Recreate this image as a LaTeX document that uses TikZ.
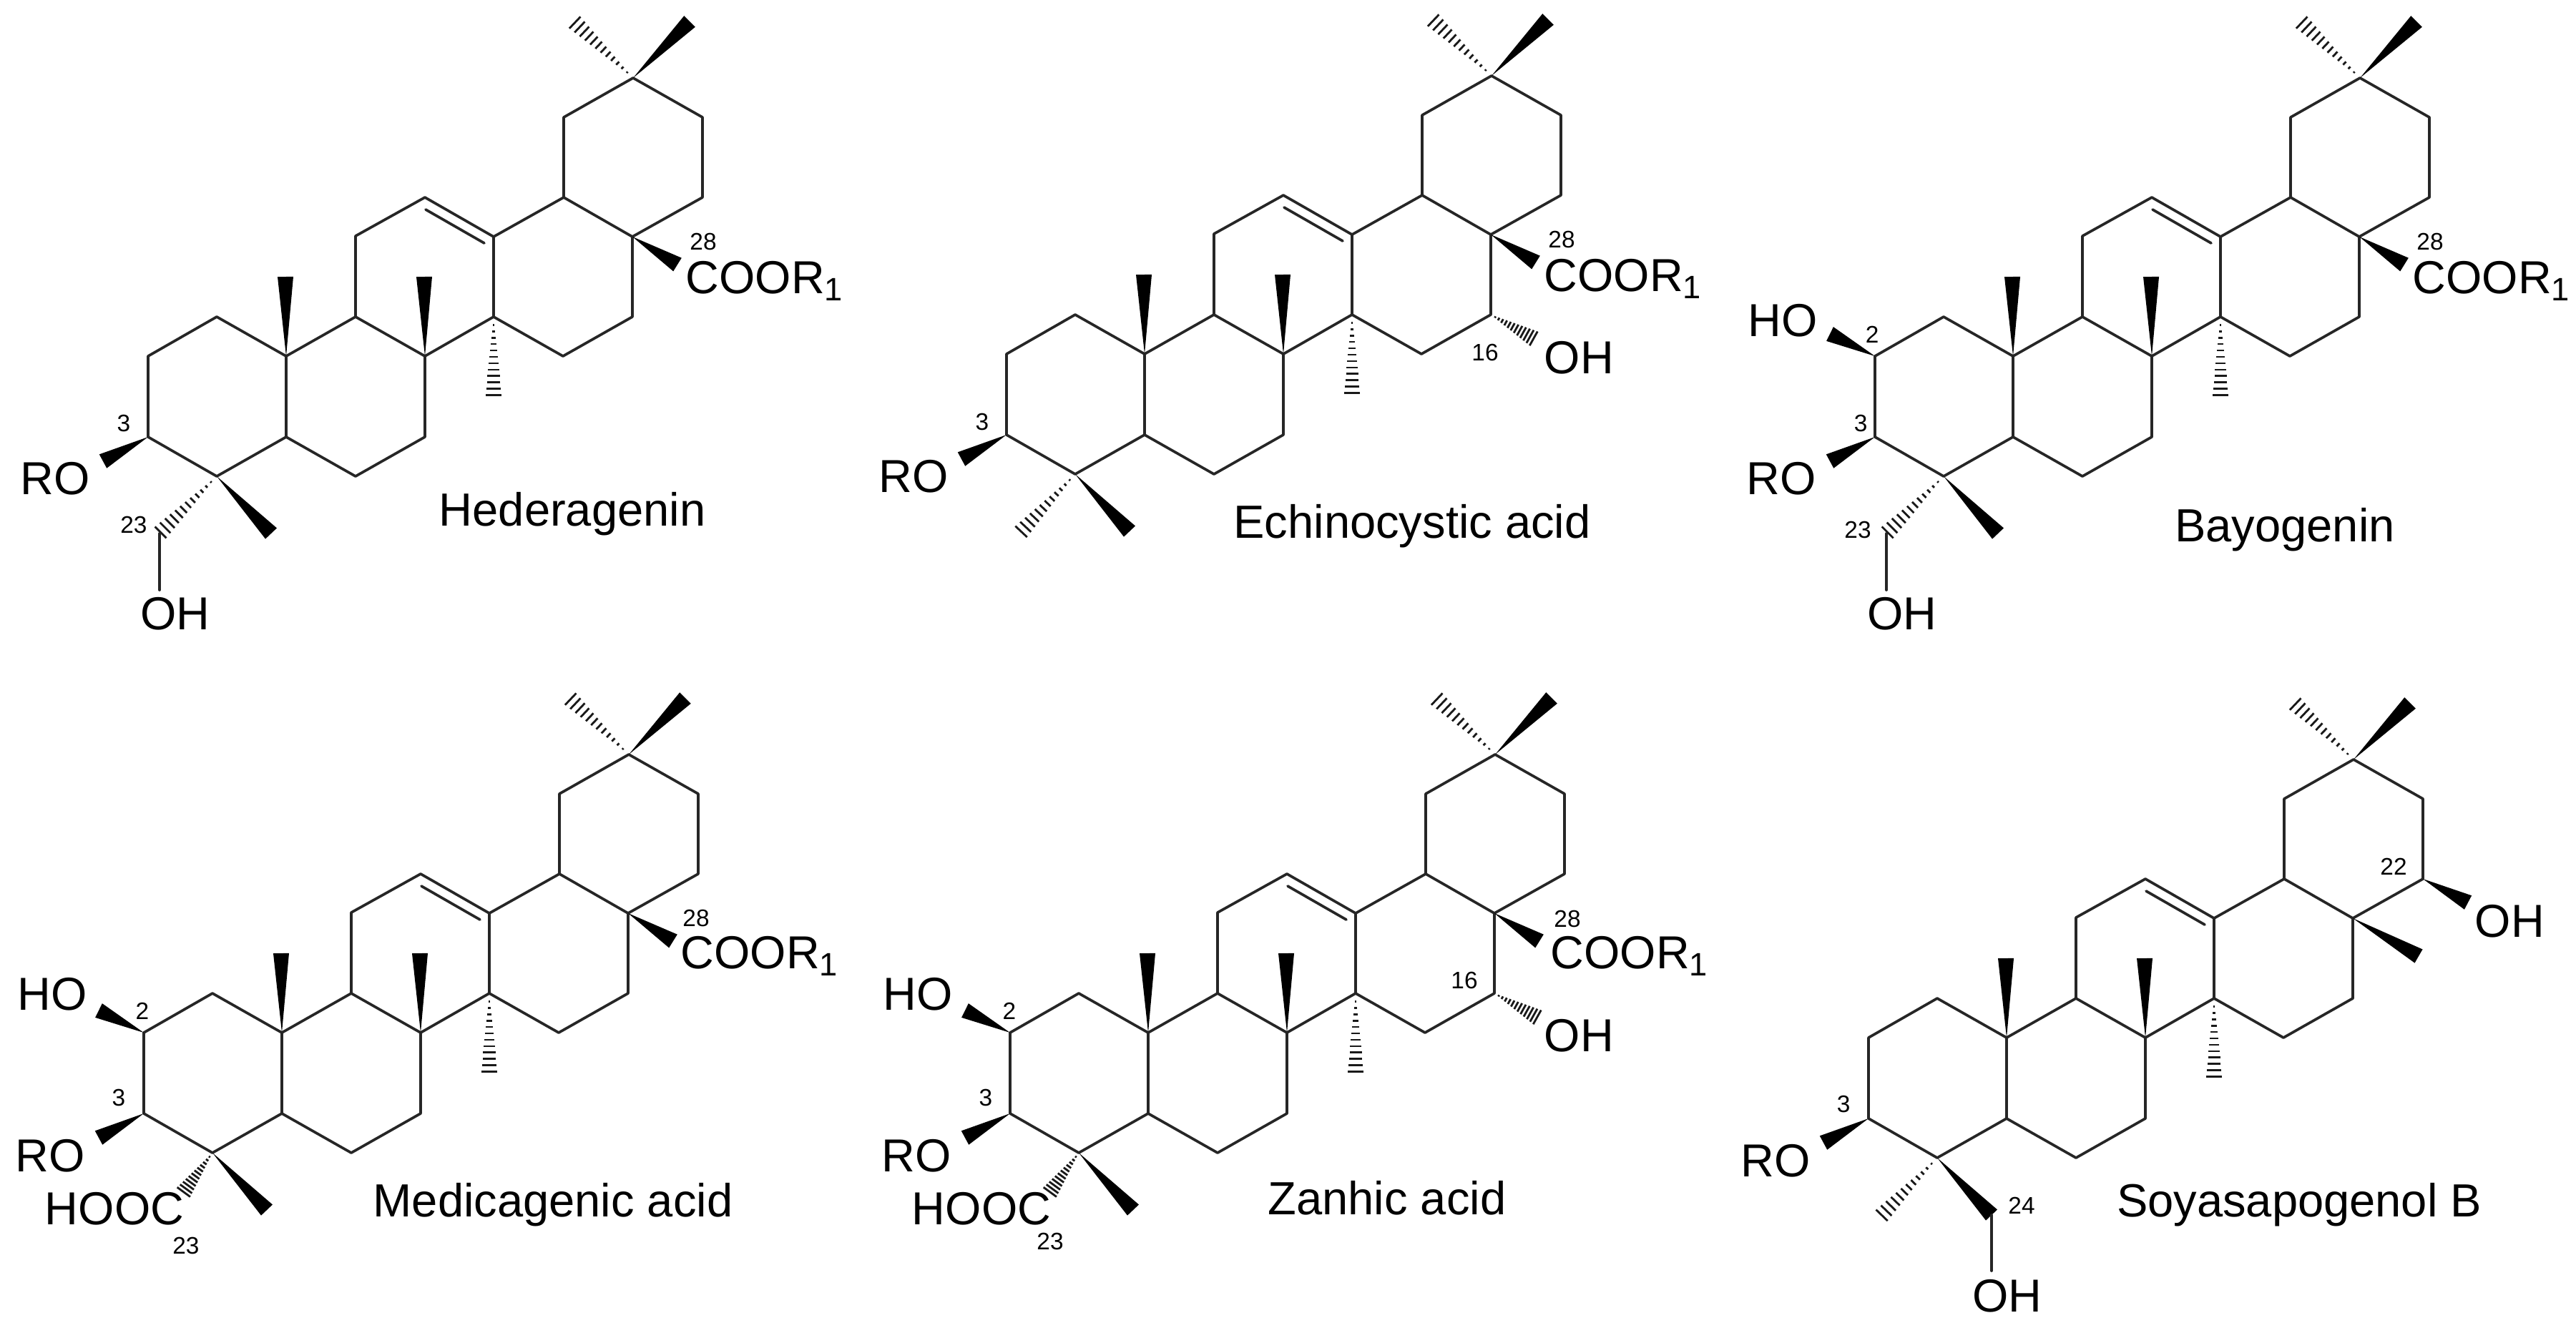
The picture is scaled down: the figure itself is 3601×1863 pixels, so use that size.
\documentclass[tikz,border=0pt]{standalone}
\usepackage{fontspec}
\setmainfont{Liberation Sans}
\usetikzlibrary{calc}
\tikzset{%
  bond/.style    = {line width=1.05pt, line cap=round, line join=round, draw=black!85},%
  wedge/.style   = {fill=black},%
  hash/.style    = {line width=0.8pt, draw=black!90},%
  atomlbl/.style = {inner sep=0pt, font=\fontsize{18.4}{20}\selectfont},%
  numlbl/.style  = {inner sep=0pt, font=\fontsize{9.5}{11}\selectfont},%
  namelbl/.style = {inner sep=0pt, font=\fontsize{18.5}{20}\selectfont}%
}
\newcommand{\wedgebond}[2]{%
	\fill[wedge] (#1) -- ($(#2)!0.11cm!90:(#1)$) -- ($(#2)!0.11cm!-90:(#1)$) -- cycle;%
}
\newcommand{\hashbond}[2]{%
	\foreach \f in {0.1,0.18,...,1.01}{%
		\draw[hash] ($(#1)!\f!(#2)!\f*0.115cm!90:(#2)$) -- ($(#1)!\f!(#2)!\f*0.115cm!-90:(#2)$);%
	}%
}
% the five rings and the groups that all six share
\newcommand{\ringbonds}{%
	\foreach \n/\x/\y in {1/-97/-55,2/-193/0,3/-193/113,4/-97/168,5/0/113,6/97/168,7/194/113,%
		8/194/0,9/97/-55,10/0/0,11/97/-168,12/194/-222,13/290/-167,14/290/-55,15/387/0,%
		16/484/-55,17/484/-167,18/388/-222,19/388/-334,20/485/-389,21/582/-334,22/582/-222}{%
		\coordinate (c\n) at (\x,\y);%
	}%
	\coordinate (db1) at (195,-205);%
	\coordinate (db2) at (277,-158);%
	\coordinate (me10) at (-1,-111);%
	\coordinate (me8) at (193,-111);%
	\coordinate (me14) at (290,57);%
	\coordinate (me20a) at (564,-468);%
	\coordinate (me20b) at (402,-468);%
	\coordinate (o3) at (-256,147);%
	\coordinate (me4) at (-21,248);%
	\draw[bond] (c1) -- (c2) -- (c3) -- (c4) -- (c5) -- (c10) -- cycle;%
	\draw[bond] (c5) -- (c6) -- (c7) -- (c8) -- (c9) -- (c10);%
	\draw[bond] (c9) -- (c11) -- (c12) -- (c13) -- (c14) -- (c8);%
	\draw[bond] (c13) -- (c18) -- (c17) -- (c16) -- (c15) -- (c14);%
	\draw[bond] (c18) -- (c19) -- (c20) -- (c21) -- (c22) -- (c17);%
	\draw[bond] (db1) -- (db2);%
	\wedgebond{c10}{me10}%
	\wedgebond{c8}{me8}%
	\hashbond{c14}{me14}%
	\wedgebond{c20}{me20a}%
	\hashbond{c20}{me20b}%
	\wedgebond{c3}{o3}%
	\wedgebond{c4}{me4}%
}
% the COOR1 group at 28
\newcommand{\esterbond}{%
	\coordinate (o28) at (547,-128);%
	\wedgebond{c17}{o28}%
}
\begin{document}
\begin{tikzpicture}[x=0.01cm, y=-0.01cm]%
	\useasboundingbox (0,0) rectangle (3601,1863);
	% Hederagenin
	\begin{scope}[shift={(400,498)}]
		\ringbonds
		\esterbond
		\coordinate (ch23) at (-177,248);
		\coordinate (oh23) at (-177,327);
		\hashbond{c4}{ch23}
		\draw[bond] (ch23) -- (oh23);
		\node[atomlbl] (heRO) at (-323,171) {RO};
		\node[atomlbl] (heOH) at (-155,360) {OH};
		\node[atomlbl, anchor=west] (heCOOR) at (558,-105) {COOR\textsubscript{1}};
		\node[numlbl] (he3) at (-227,94) {3};
		\node[numlbl] (he23) at (-213,236) {23};
		\node[numlbl] (he28) at (583,-160) {28};
		\node[namelbl] (heName) at (400,221) {Hederagenin};
	\end{scope}
	% Echinocystic acid
	\begin{scope}[shift={(1600,495)}]
		\ringbonds
		\esterbond
		\coordinate (me4b) at (-174,250);
		\coordinate (oh16) at (545,-21);
		\hashbond{c4}{me4b}
		\hashbond{c16}{oh16}
		\node[atomlbl] (ecRO) at (-323,171) {RO};
		\node[atomlbl, anchor=west] (ecOH) at (558,5) {OH};
		\node[atomlbl, anchor=west] (ecCOOR) at (558,-105) {COOR\textsubscript{1}};
		\node[numlbl] (ec3) at (-227,95) {3};
		\node[numlbl] (ec16) at (476,-2) {16};
		\node[numlbl] (ec28) at (583,-160) {28};
		\node[namelbl] (ecName) at (374,241) {Echinocystic acid};
	\end{scope}
	% Bayogenin
	\begin{scope}[shift={(2814,498)}]
		\ringbonds
		\esterbond
		\coordinate (o2) at (-256,-31);
		\coordinate (ch23) at (-177,248);
		\coordinate (oh23) at (-177,327);
		\wedgebond{c2}{o2}
		\hashbond{c4}{ch23}
		\draw[bond] (ch23) -- (oh23);
		\node[atomlbl] (baHO) at (-322,-50) {HO};
		\node[atomlbl] (baRO) at (-324,171) {RO};
		\node[atomlbl] (baOH) at (-155,360) {OH};
		\node[atomlbl, anchor=west] (baCOOR) at (558,-105) {COOR\textsubscript{1}};
		\node[numlbl] (ba2) at (-197,-30) {2};
		\node[numlbl] (ba3) at (-213,94) {3};
		\node[numlbl] (ba23) at (-217,243) {23};
		\node[numlbl] (ba28) at (583,-160) {28};
		\node[namelbl] (baName) at (380,243) {Bayogenin};
	\end{scope}
	% Medicagenic acid
	\begin{scope}[shift={(394,1444)}]
		\ringbonds
		\esterbond
		\coordinate (o2) at (-256,-31);
		\coordinate (co23) at (-138,224);
		\wedgebond{c2}{o2}
		\hashbond{c4}{co23}
		\node[atomlbl] (meHO) at (-321,-54) {HO};
		\node[atomlbl] (meRO) at (-324,172) {RO};
		\node[atomlbl] (meHOOC) at (-234,246) {HOOC};
		\node[atomlbl, anchor=west] (meCOOR) at (557,-107) {COOR\textsubscript{1}};
		\node[numlbl] (me2) at (-195,-30) {2};
		\node[numlbl] (me3) at (-228,91) {3};
		\node[numlbl] (me23) at (-134,298) {23};
		\node[numlbl] (me28) at (579,-160) {28};
		\node[namelbl] (meName) at (379,241) {Medicagenic acid};
	\end{scope}
	% Zanhic acid
	\begin{scope}[shift={(1605,1444)}]
		\ringbonds
		\esterbond
		\coordinate (o2) at (-256,-31);
		\coordinate (co23) at (-138,224);
		\coordinate (oh16) at (545,-21);
		\wedgebond{c2}{o2}
		\hashbond{c4}{co23}
		\hashbond{c16}{oh16}
		\node[atomlbl] (zaHO) at (-322,-54) {HO};
		\node[atomlbl] (zaRO) at (-324,172) {RO};
		\node[atomlbl] (zaHOOC) at (-233,246) {HOOC};
		\node[atomlbl, anchor=west] (zaOH) at (553,4) {OH};
		\node[atomlbl, anchor=west] (zaCOOR) at (562,-107) {COOR\textsubscript{1}};
		\node[numlbl] (za2) at (-194,-30) {2};
		\node[numlbl] (za3) at (-227,91) {3};
		\node[numlbl] (za16) at (442,-73) {16};
		\node[numlbl] (za23) at (-137,292) {23};
		\node[numlbl] (za28) at (586,-159) {28};
		\node[namelbl] (zaName) at (334,231) {Zanhic acid};
	\end{scope}
	% Soyasapogenol B
	\begin{scope}[shift={(2805,1451)}]
		\ringbonds
		\coordinate (me17) at (576,-114);
		\coordinate (o22) at (645,-189);
		\coordinate (me4b) at (-176,250);
		\coordinate (oh24) at (-21,326);
		\wedgebond{c17}{me17}
		\wedgebond{c22}{o22}
		\hashbond{c4}{me4b}
		\draw[bond] (me4) -- (oh24);
		\node[atomlbl] (soRO) at (-323,172) {RO};
		\node[atomlbl, anchor=west] (soOHa) at (654,-163) {OH};
		\node[atomlbl] (soOHb) at (1,361) {OH};
		\node[numlbl] (so3) at (-228,93) {3};
		\node[numlbl] (so22) at (541,-239) {22};
		\node[numlbl] (so24) at (21,235) {24};
		\node[namelbl] (soName) at (409,234) {Soyasapogenol B};
	\end{scope}
\end{tikzpicture}
\end{document}
